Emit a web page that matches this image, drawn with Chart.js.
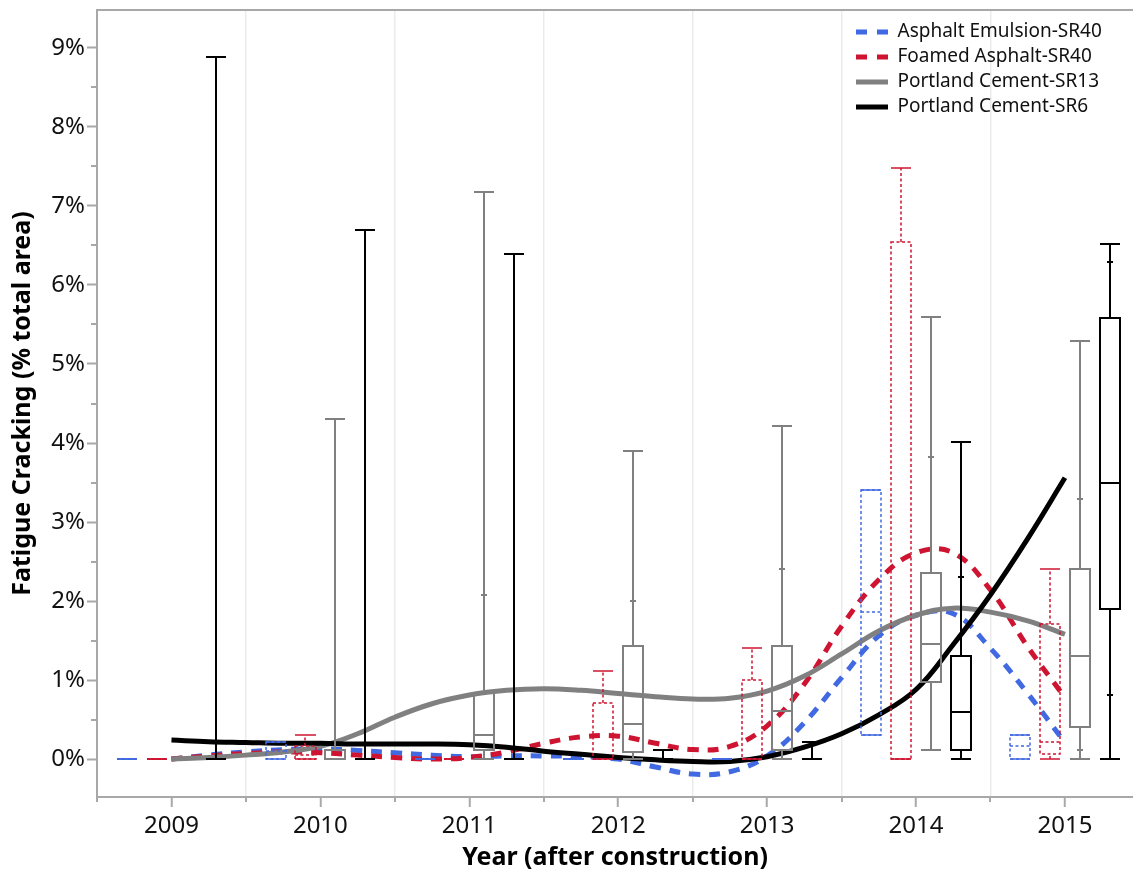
<!DOCTYPE html>
<html>
<head>
<meta charset="utf-8">
<title>Fatigue Cracking by Year</title>
<script src="https://cdn.jsdelivr.net/npm/chart.js@4.4.1/dist/chart.umd.min.js"></script>
<style>
  html, body { margin: 0; padding: 0; background: #fff; overflow: hidden; }
  canvas { display: block; }
</style>
</head>
<body>
<canvas id="chart" width="1133" height="875"></canvas>
<script>
// Survey years on the x axis
const years = [2009, 2010, 2011, 2012, 2013, 2014, 2015];

// Box summaries per year: [min, q1, median, q3, max] in % of total area
const emulsionBoxes = [
  [0, 0, 0, 0, 0],
  [0, 0, 0.10, 0.21, 0.21],
  [0, 0, 0, 0, 0],
  [0, 0, 0, 0, 0],
  [0, 0, 0, 0, 0],
  [0.30, 0.30, 1.86, 3.41, 3.41],
  [0, 0, 0.16, 0.30, 0.30]
];
const foamedBoxes = [
  [0, 0, 0, 0, 0],
  [0, 0, 0.05, 0.16, 0.31],
  [0, 0, 0, 0, 0],
  [0, 0, 0, 0.71, 1.11],
  [0, 0, 0, 1.00, 1.41],
  [0, 0, 0, 6.55, 7.48],
  [0, 0.06, 0.21, 1.71, 2.40]
];
const cementSR13Boxes = [
  [0, 0, 0, 0, 0],
  [0, 0, 0, 0.11, 4.30],
  [0, 0.11, 0.30, 0.83, 7.18],
  [0, 0.09, 0.45, 1.43, 3.90],
  [0, 0.11, 0.61, 1.43, 4.21],
  [0.11, 0.97, 1.45, 2.35, 5.59],
  [0, 0.41, 1.30, 2.40, 5.29]
];
const cementSR6Boxes = [
  [0, 0, 0, 0, 8.89],
  [0, 0, 0, 0, 6.70],
  [0, 0, 0, 0, 6.39],
  [0, 0, 0, 0, 0.11],
  [0, 0, 0, 0, 0.21],
  [0, 0.11, 0.60, 1.30, 4.01],
  [0, 1.90, 3.50, 5.58, 6.52]
];

// Percentile markers on the whiskers (null where none is drawn)
const cementSR13P90 = [null, null, 2.08, 2.00, 2.41, 3.82, 3.29];
const cementSR13P10 = [null, null, null, null, null, null, 0.11];
const cementSR6P90 = [null, null, null, null, null, 2.31, 6.29];
const cementSR6P10 = [null, null, null, null, null, null, 0.81];

// Smoothed trend of each treatment, sampled every quarter year
const trendYears = [2009, 2009.25, 2009.5, 2009.75, 2010, 2010.25, 2010.5, 2010.75,
  2011, 2011.25, 2011.5, 2011.75, 2012, 2012.25, 2012.5, 2012.75,
  2013, 2013.25, 2013.5, 2013.75, 2014, 2014.25, 2014.5, 2014.75, 2015];
const emulsionTrend = [0.00, 0.05, 0.09, 0.12, 0.13, 0.11, 0.08, 0.05,
  0.03, 0.04, 0.04, 0.03, 0.00, -0.10, -0.19, -0.16,
  0.04, 0.46, 1.03, 1.56, 1.82, 1.84, 1.40, 0.83, 0.21];
const foamedTrend = [0.00, 0.04, 0.07, 0.09, 0.08, 0.05, 0.02, 0.00,
  0.02, 0.09, 0.20, 0.28, 0.29, 0.20, 0.12, 0.16,
  0.42, 0.95, 1.68, 2.27, 2.61, 2.61, 2.14, 1.42, 0.78];
const cementSR13Trend = [0.00, 0.02, 0.05, 0.09, 0.16, 0.32, 0.53, 0.70,
  0.81, 0.87, 0.89, 0.87, 0.83, 0.79, 0.76, 0.77,
  0.86, 1.05, 1.33, 1.62, 1.82, 1.91, 1.86, 1.75, 1.58];
const cementSR6Trend = [0.24, 0.22, 0.21, 0.20, 0.20, 0.19, 0.19, 0.19,
  0.18, 0.15, 0.10, 0.06, 0.02, -0.01, -0.03, -0.03,
  0.03, 0.15, 0.32, 0.56, 0.88, 1.45, 2.08, 2.79, 3.56];

const seriesLabels = ['Asphalt Emulsion-SR40', 'Foamed Asphalt-SR40', 'Portland Cement-SR13', 'Portland Cement-SR6'];

// ---- styling ----
const FONT = "'Noto Sans', 'DejaVu Sans', sans-serif";
const BLUE = '#4169E1';
const RED = '#CE1431';
const GRAY = '#808080';
const BLACK = '#000000';
const AXIS_GRAY = '#a8a8a8';
const GRID_GRAY = '#ebebeb';
const TREND_DASH = [11, 9];
const BOX_WIDTH = 0.135;          // box width in years
const MARKER_HALF = 3;            // half width of percentile markers, px

const isWhole = v => Math.abs(v - Math.round(v)) < 1e-6;
const isHalf = v => Math.abs(v - Math.floor(v) - 0.5) < 1e-6;
const points = arr => trendYears.map((x, i) => ({ x, y: arr[i] }));

Chart.defaults.font.family = FONT;

const boxGroups = [
  { boxes: emulsionBoxes, color: BLUE, offset: -0.3, lineWidth: 1.5, dash: [3, 2.5] },
  { boxes: foamedBoxes, color: RED, offset: -0.1, lineWidth: 1.5, dash: [3, 2.5] },
  { boxes: cementSR13Boxes, color: GRAY, offset: 0.1, lineWidth: 2, dash: [], p90: cementSR13P90, p10: cementSR13P10 },
  { boxes: cementSR6Boxes, color: BLACK, offset: 0.3, lineWidth: 2, dash: [], p90: cementSR6P90, p10: cementSR6P10 }
];

function seg(ctx, x1, y1, x2, y2) {
  ctx.beginPath();
  ctx.moveTo(x1, y1);
  ctx.lineTo(x2, y2);
  ctx.stroke();
}

// Box-and-whisker marks placed through the chart's own scales
const boxPlots = {
  id: 'boxPlots',
  afterDatasetsDraw(chart) {
    const { ctx, chartArea: area, scales: { x, y } } = chart;
    ctx.save();
    ctx.beginPath();
    ctx.rect(area.left, area.top, area.right - area.left, area.bottom - area.top + 2);
    ctx.clip();
    ctx.lineCap = 'butt';
    boxGroups.forEach(g => {
      years.forEach((yr, i) => {
        const [mn, q1, md, q3, mx] = g.boxes[i];
        const c = yr + g.offset;
        const cx = Math.round(x.getPixelForValue(c));
        const l = Math.round(x.getPixelForValue(c - BOX_WIDTH / 2));
        const r = Math.round(x.getPixelForValue(c + BOX_WIDTH / 2));
        const py = v => Math.round(y.getPixelForValue(v));
        ctx.strokeStyle = g.color;
        ctx.lineWidth = g.lineWidth;
        ctx.setLineDash(g.dash);
        // whiskers
        if (mx > q3) seg(ctx, cx, py(q3), cx, py(mx));
        if (q1 > mn) seg(ctx, cx, py(mn), cx, py(q1));
        // box and median
        ctx.strokeRect(l, py(q3), r - l, py(q1) - py(q3));
        seg(ctx, l, py(md), r, py(md));
        // whisker caps
        ctx.setLineDash([]);
        seg(ctx, l, py(mx), r, py(mx));
        seg(ctx, l, py(mn), r, py(mn));
        // percentile markers
        [g.p90, g.p10].forEach(arr => {
          if (arr && arr[i] != null) seg(ctx, cx - MARKER_HALF, py(arr[i]), cx + MARKER_HALF, py(arr[i]));
        });
      });
    });
    ctx.restore();
  }
};

// Frame top edge and the minor (half-step) tick marks
const frameAndMinorTicks = {
  id: 'frameAndMinorTicks',
  afterDraw(chart) {
    const { ctx, chartArea: area, scales: { x, y } } = chart;
    ctx.save();
    ctx.strokeStyle = AXIS_GRAY;
    ctx.lineWidth = 2;
    seg(ctx, area.left - 1, area.top, area.right, area.top);
    y.ticks.forEach(t => {
      if (!isWhole(t.value)) {
        const p = Math.round(y.getPixelForValue(t.value));
        seg(ctx, area.left - 6, p, area.left, p);
      }
    });
    x.ticks.forEach(t => {
      if (isHalf(t.value)) {
        const p = Math.round(x.getPixelForValue(t.value));
        seg(ctx, p, area.bottom, p, area.bottom + 5);
      }
    });
    ctx.restore();
  }
};

// Place the legend inside the plot, in the upper right
const legendPlacement = {
  id: 'legendPlacement',
  afterLayout(chart) {
    const lg = chart.legend;
    if (!lg) return;
    const w = lg.width, h = lg.height;
    lg.left = chart.chartArea.left + 753;
    lg.top = chart.chartArea.top + 6.5;
    lg.right = lg.left + w;
    lg.bottom = lg.top + h;
  }
};

function trendDataset(label, data, color, dashed, order) {
  return {
    label,
    data: points(data),
    borderColor: color,
    backgroundColor: color,
    borderWidth: 5,
    borderDash: dashed ? TREND_DASH : [],
    borderCapStyle: 'butt',
    pointRadius: 0,
    tension: 0.4,
    fill: false,
    order
  };
}

new Chart(document.getElementById('chart'), {
  type: 'line',
  data: {
    datasets: [
      trendDataset(seriesLabels[0], emulsionTrend, BLUE, true, 4),
      trendDataset(seriesLabels[1], foamedTrend, RED, true, 3),
      trendDataset(seriesLabels[2], cementSR13Trend, GRAY, false, 2),
      trendDataset(seriesLabels[3], cementSR6Trend, BLACK, false, 1)
    ]
  },
  options: {
    responsive: false,
    devicePixelRatio: 1,
    animation: false,
    events: [],
    layout: { padding: { top: 10, right: 0, bottom: 0, left: 0 } },
    scales: {
      x: {
        type: 'linear',
        min: 2008.5,
        max: 2015.457,
        afterFit(scale) {
          scale.height = 78;
          scale.paddingLeft = 0;
          scale.paddingRight = 0;
        },
        border: { color: AXIS_GRAY, width: 2 },
        grid: {
          color: c => (c.tick && isHalf(c.tick.value)) ? GRID_GRAY : 'rgba(0,0,0,0)',
          lineWidth: 1.5,
          tickLength: 10,
          tickWidth: 2,
          tickColor: c => (c.tick && isWhole(c.tick.value)) ? AXIS_GRAY : 'rgba(0,0,0,0)'
        },
        ticks: {
          stepSize: 0.5,
          autoSkip: false,
          includeBounds: false,
          maxRotation: 0,
          padding: 5,
          color: '#111',
          font: { size: 24 },
          callback: v => isWhole(v) ? String(Math.round(v)) : ''
        },
        title: {
          display: true,
          text: 'Year (after construction)',
          color: '#000',
          font: { size: 25, weight: 'bold' },
          padding: { top: 0, bottom: 2 }
        }
      },
      y: {
        type: 'linear',
        min: -0.48,
        max: 9.48,
        afterFit(scale) {
          scale.width = 97;
          scale.paddingTop = 0;
          scale.paddingBottom = 0;
        },
        border: { color: AXIS_GRAY, width: 2 },
        grid: {
          drawOnChartArea: false,
          tickLength: 10,
          tickWidth: 2,
          tickColor: c => (c.tick && isWhole(c.tick.value)) ? AXIS_GRAY : 'rgba(0,0,0,0)'
        },
        ticks: {
          stepSize: 0.5,
          autoSkip: false,
          includeBounds: false,
          padding: 2,
          color: '#111',
          font: { size: 24 },
          callback: v => isWhole(v) ? Math.round(v) + '%' : ''
        },
        title: {
          display: true,
          text: 'Fatigue Cracking (% total area)',
          color: '#000',
          font: { size: 25, weight: 'bold' },
          padding: { top: 8, bottom: 0 }
        }
      }
    },
    plugins: {
      tooltip: { enabled: false },
      legend: {
        position: 'chartArea',
        align: 'start',
        labels: {
          usePointStyle: true,
          pointStyleWidth: 32,
          padding: 6,
          color: '#111',
          font: { size: 19 },
          generateLabels(chart) {
            return chart.data.datasets.map((ds, i) => ({
              text: ds.label,
              datasetIndex: i,
              hidden: false,
              fillStyle: ds.borderColor,
              strokeStyle: ds.borderColor,
              fontColor: '#111',
              lineWidth: 5,
              lineDash: ds.borderDash.length ? [11, 10] : [],
              lineCap: 'butt',
              pointStyle: 'line',
              textAlign: 'left'
            }));
          }
        }
      }
    }
  },
  plugins: [boxPlots, frameAndMinorTicks, legendPlacement]
});
</script>
</body>
</html>
